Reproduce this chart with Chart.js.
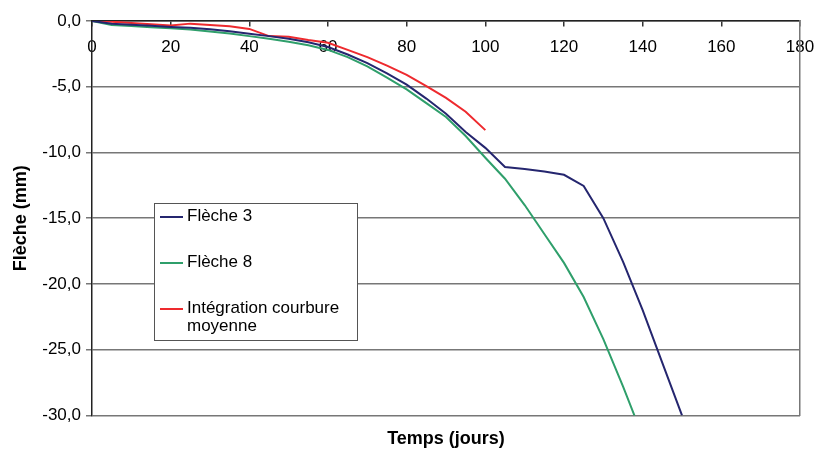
<!DOCTYPE html>
<html>
<head>
<meta charset="utf-8">
<script src="https://cdn.jsdelivr.net/npm/chart.js@4.4.0/dist/chart.umd.min.js"></script>
<style>
  html, body { margin: 0; padding: 0; background: #fff; }
  #wrap { position: relative; width: 819px; height: 458px; }
  #legend { position: absolute; left: 154px; top: 203px; width: 202px; height: 136px;
    border: 1px solid #555; background: #fff; font-family: "Liberation Sans", Arial, sans-serif;
    font-size: 17px; color: #000; box-sizing: content-box; }
  .item { position: absolute; left: 5px; width: 195px; }
  .swatch { position: absolute; left: 0; width: 23px; height: 2px; }
  .txt { position: absolute; left: 27px; width: 172px; line-height: 18px; }
</style>
</head>
<body>
<div id="wrap">
  <canvas id="c" width="819" height="458"></canvas>
  <div id="legend"></div>
</div>
<script>
const days = [0,5,10,15,20,25,30,35,40,45,50,55,60,65,70,75,80,85,90,95,100,105,110,115,120,125,130,135,140,145,150];
const fleche3 = [0,-0.2,-0.28,-0.36,-0.45,-0.52,-0.62,-0.78,-0.97,-1.15,-1.35,-1.62,-1.98,-2.55,-3.2,-3.98,-4.84,-5.9,-7.05,-8.45,-9.65,-11.1,-11.25,-11.45,-11.7,-12.55,-15.0,-18.3,-22.0,-26.0,-30.0];
const fleche8 = [0,-0.3,-0.38,-0.47,-0.55,-0.65,-0.8,-0.95,-1.15,-1.35,-1.58,-1.85,-2.2,-2.75,-3.45,-4.3,-5.2,-6.25,-7.3,-8.75,-10.4,-12.0,-14.0,-16.2,-18.4,-21.0,-24.2,-27.8,-31.6];
const integration = [0,-0.05,-0.15,-0.25,-0.35,-0.2,-0.3,-0.4,-0.6,-1.15,-1.2,-1.45,-1.65,-2.2,-2.75,-3.4,-4.1,-4.95,-5.85,-6.9,-8.3];
const seriesNames = ['Flèche 3', 'Flèche 8', 'Intégration courbure moyenne'];
const seriesColors = ['#25266f', '#2f9f6b', '#ee2a2e'];
const xTitle = 'Temps (jours)';
const yTitle = 'Flèche (mm)';

const toPts = arr => arr.map((v, i) => ({ x: days[i], y: v }));
const seriesData = [fleche3, fleche8, integration];
const FONT = '"Liberation Sans", Arial, sans-serif';

const chart = new Chart(document.getElementById('c'), {
  type: 'line',
  data: {
    datasets: seriesData.map((d, i) => ({
      label: seriesNames[i],
      data: toPts(d),
      borderColor: seriesColors[i],
      backgroundColor: seriesColors[i],
      borderWidth: 2,
      pointRadius: 0,
      tension: 0,
      fill: false
    }))
  },
  options: {
    responsive: false,
    animation: false,
    layout: { padding: { top: 21, right: 19, left: 0, bottom: 0 } },
    plugins: {
      legend: { display: false },
      tooltip: { enabled: false },
      title: {
        display: true, position: 'bottom', text: xTitle, fullSize: false,
        color: '#000',
        font: { family: FONT, size: 18, weight: 'bold' },
        padding: { top: 13, bottom: 8 }
      }
    },
    scales: {
      x: {
        type: 'linear', position: { y: 0 }, min: 0, max: 180,
        afterFit: s => { s.paddingLeft = 0; s.paddingRight = 0; },
        ticks: { stepSize: 20, color: '#000', padding: 11,
          font: { family: FONT, size: 17 }, maxRotation: 0 },
        grid: { drawOnChartArea: false, drawTicks: true, tickLength: 5, color: '#333', lineWidth: 1.5 },
        border: { display: true, color: '#222', width: 1.5 }
      },
      y: {
        type: 'linear', position: 'left', min: -30, max: 0,
        afterFit: s => { s.width = 92; },
        ticks: { stepSize: 5, color: '#000', padding: 5,
          font: { family: FONT, size: 17 },
          callback: v => v.toFixed(1).replace('.', ',') },
        grid: { color: '#777', lineWidth: 1.5, tickLength: 6 },
        border: { display: true, color: '#222', width: 1.5 },
        title: { display: true, text: yTitle, color: '#000',
          font: { family: FONT, size: 18, weight: 'bold' },
          padding: { top: 10, bottom: 0 } }
      },
      y2: {
        type: 'linear', position: 'right', min: -30, max: 0,
        afterFit: s => { s.width = 0; },
        ticks: { display: false },
        grid: { drawOnChartArea: false, drawTicks: false },
        border: { display: true, color: '#777', width: 1.5 }
      }
    }
  }
});

// HTML legend built from the chart's datasets
const legend = document.getElementById('legend');
const tops = [3, 49, 95];
chart.data.datasets.forEach((ds, i) => {
  const item = document.createElement('div');
  item.className = 'item';
  item.style.top = tops[i] + 'px';
  const sw = document.createElement('div');
  sw.className = 'swatch';
  sw.style.background = ds.borderColor;
  sw.style.top = '9px';
  const t = document.createElement('div');
  t.className = 'txt';
  t.textContent = ds.label;
  item.appendChild(sw);
  item.appendChild(t);
  legend.appendChild(item);
});
</script>
</body>
</html>
